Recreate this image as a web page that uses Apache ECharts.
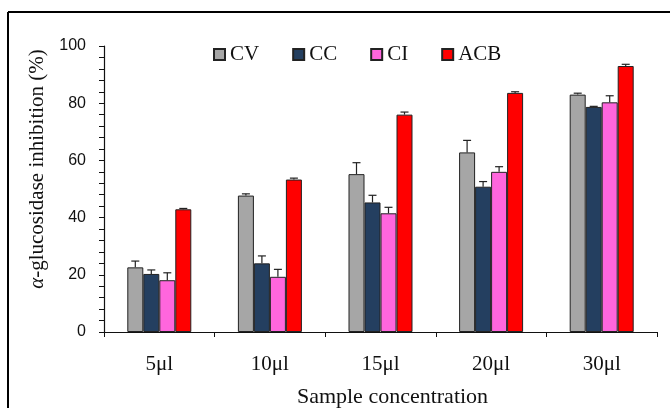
<!DOCTYPE html>
<html>
<head>
<meta charset="utf-8">
<script src="https://cdn.jsdelivr.net/npm/echarts@6/dist/echarts.min.js"></script>
<style>
  html, body { margin: 0; padding: 0; background: #fff; }
  #chartContainer { width: 670px; height: 408px; }
</style>
</head>
<body>
<div id="chartContainer"></div>
<script>
var categories = ['5μl', '10μl', '15μl', '20μl', '30μl'];
var seriesNames = ['CV', 'CC', 'CI', 'ACB'];
var cvValues = [22.6, 47.7, 55.2, 62.8, 83.0];
var ccValues = [20.3, 24.0, 45.3, 50.8, 78.7];
var ciValues = [18.1, 19.3, 41.5, 56.0, 80.3];
var acbValues = [42.9, 53.3, 76.0, 83.6, 93.0];
var cvErr = [2.2, 0.6, 4.0, 4.2, 0.5];
var ccErr = [1.4, 2.6, 2.5, 1.8, 0.2];
var ciErr = [2.6, 2.6, 2.1, 1.8, 2.3];
var acbErr = [0.3, 0.5, 0.9, 0.4, 0.6];
var yTicks = [0, 20, 40, 60, 80, 100];

var colors = ['#a6a6a6', '#243f60', '#ff66dd', '#ff0000'];
var allValues = [cvValues, ccValues, ciValues, acbValues];
var allErr = [cvErr, ccErr, ciErr, acbErr];
var barW = 16;
var serif = 'Liberation Serif';

var series = [];
// bars
seriesNames.forEach(function (name, i) {
    series.push({
        name: name,
        type: 'bar',
        data: allValues[i],
        barWidth: barW,
        barGap: '0%',
        itemStyle: { color: colors[i], borderColor: '#222', borderWidth: 1 },
        z: 2
    });
});
// error bars (upper only, with cap)
seriesNames.forEach(function (name, i) {
    var offset = (i - 1.5) * barW;
    series.push({
        name: name + ' err',
        type: 'custom',
        z: 3,
        data: allValues[i].map(function (v, k) { return [k, v, v + allErr[i][k]]; }),
        renderItem: function (params, api) {
            var lo = api.coord([api.value(0), api.value(1)]);
            var hi = api.coord([api.value(0), api.value(2)]);
            var x = lo[0] + offset;
            var style = { stroke: '#222', lineWidth: 1.2 };
            return {
                type: 'group',
                children: [
                    { type: 'line', shape: { x1: x, y1: lo[1], x2: x, y2: hi[1] }, style: style },
                    { type: 'line', shape: { x1: x - 4, y1: hi[1], x2: x + 4, y2: hi[1] }, style: style }
                ]
            };
        }
    });
});

var myChart = echarts.init(document.getElementById('chartContainer'));
var option = {
    animation: false,
    backgroundColor: '#fff',
    grid: { left: 104, right: 13, top: 46, bottom: 76, outerBoundsMode: 'none', containLabel: false },
    legend: {
        data: seriesNames,
        left: 208,
        top: 39,
        itemWidth: 11,
        itemHeight: 11,
        itemGap: 33,
        icon: 'rect',
        textStyle: { fontFamily: serif, fontSize: 21, color: '#111' }
    },
    xAxis: {
        type: 'category',
        data: categories,
        name: 'Sample concentration',
        nameLocation: 'middle',
        nameGap: 54,
        nameTextStyle: { fontFamily: serif, fontSize: 22, color: '#111', padding: [0, 0, 0, 24] },
        axisLine: { lineStyle: { color: '#111', width: 1.2 } },
        axisTick: { show: true, length: 5, lineStyle: { color: '#111' } },
        axisLabel: { margin: 22, fontFamily: serif, fontSize: 21, color: '#111' }
    },
    yAxis: {
        type: 'value',
        min: yTicks[0],
        max: yTicks[yTicks.length - 1],
        interval: 20,
        name: '{a|α}-glucosidase inhibition (%)',
        nameLocation: 'middle',
        nameGap: 56,
        nameTextStyle: {
            fontFamily: serif, fontSize: 21, color: '#111', padding: [0, 0, 0, 40],
            rich: { a: { fontFamily: serif, fontSize: 21, fontStyle: 'italic', color: '#111' } }
        },
        splitLine: { show: false },
        axisLine: { show: true, lineStyle: { color: '#111', width: 1.2 } },
        axisTick: { show: true, length: 5, lineStyle: { color: '#111' } },
        minorTick: { show: true, splitNumber: 5, length: 5, lineStyle: { color: '#111' } },
        axisLabel: { margin: 18, fontFamily: 'Liberation Sans', fontSize: 16, color: '#111' }
    },
    graphic: [
        { type: 'line', shape: { x1: 8, y1: 12, x2: 670, y2: 12 }, style: { stroke: '#000', lineWidth: 2 } },
        { type: 'line', shape: { x1: 8, y1: 12, x2: 8, y2: 408 }, style: { stroke: '#000', lineWidth: 2 } }
    ],
    series: series
};
myChart.setOption(option);
</script>
</body>
</html>
